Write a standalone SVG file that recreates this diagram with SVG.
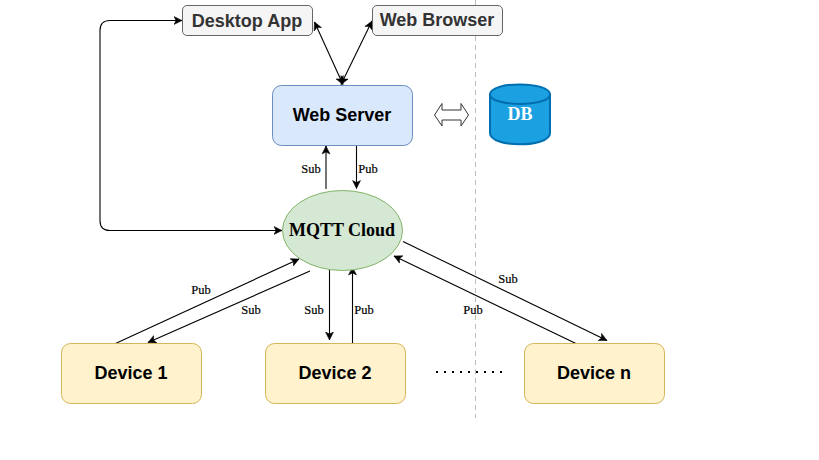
<svg xmlns="http://www.w3.org/2000/svg" width="819" height="460" viewBox="0 0 819 460">
<style>
.c{fill:none;stroke:#000;stroke-width:1.1}
.s{font:bold 18px "Liberation Sans",Arial,sans-serif;fill:#000;text-anchor:middle}
.g{fill:#333}
.l{font:12.500px "Liberation Serif","Times New Roman",serif;fill:#000;stroke:#000;stroke-width:.2;text-anchor:middle}
.app{fill:#f5f5f5;stroke:#666}
.dev{fill:#fff2cc;stroke:#d6b656}
</style>
<defs>
<marker id="a" markerUnits="userSpaceOnUse" markerWidth="10" markerHeight="10" refX="8.5" refY="4.5" orient="auto-start-reverse"><path d="M0.5 0.5L8.5 4.5L0.5 8.5L2.5 4.5Z" fill="#000" stroke="#000" stroke-width=".5"/></marker>
</defs>
<rect width="819" height="460" fill="#fff"/>
<path d="M475.500 0V418" fill="none" stroke="#bdbdbd" stroke-dasharray="5 4"/>
<g id="connectors">
<path class="c" marker-start="url(#a)" marker-end="url(#a)" d="M182 20.500H110Q100 20.500 100 30.500V220.500Q100 230.500 110 230.500H282"/>
<path class="c" marker-start="url(#a)" marker-end="url(#a)" d="M314.500 22L343 84.500"/>
<path class="c" marker-start="url(#a)" marker-end="url(#a)" d="M372 21L341 84.500"/>
<path class="c" marker-end="url(#a)" d="M326 189V146"/>
<path class="c" marker-end="url(#a)" d="M356.500 146V188.500"/>
<path class="c" marker-end="url(#a)" d="M115.500 343.500L299 259"/>
<path class="c" marker-end="url(#a)" d="M310 271L148 342.500"/>
<path class="c" marker-end="url(#a)" d="M329.500 270V340"/>
<path class="c" marker-end="url(#a)" d="M352.500 344.500V267"/>
<path class="c" marker-end="url(#a)" d="M403 241.500L607 340.500"/>
<path class="c" marker-end="url(#a)" d="M577 344L394 256"/>
<path d="M434.500 115L442 103.500V110H461V103.500L468.500 115L461 126V120H442V126Z" fill="#fff" stroke="#333"/>
<path d="M436 372H504" fill="none" stroke="#000" stroke-width="2" stroke-dasharray="2 6"/>
</g>
<g id="desktop-app"><rect class="app" x="182.500" y="5.500" width="130" height="30" rx="4.500"/><text class="s g" x="247" y="26.500">Desktop App</text></g>
<g id="web-browser"><rect class="app" x="372.500" y="5.500" width="130" height="30" rx="4.500"/><text class="s g" x="437" y="26">Web Browser</text></g>
<g id="web-server"><rect x="272.500" y="85.500" width="140" height="60" rx="9" fill="#dae8fc" stroke="#6c8ebf"/><text class="s" x="342" y="121">Web Server</text></g>
<g id="db"><path d="M490 94.500C490 81 550 81 550 94.500V133C550 148 490 148 490 133Z" fill="#1ba1e2" stroke="#006eaf" stroke-width="2"/><path d="M490 94.500C490 107 550 107 550 94.500" fill="none" stroke="#006eaf" stroke-width="2"/><text x="520" y="120" text-anchor="middle" style="font:bold 18px 'Liberation Serif',serif;fill:#fff">DB</text></g>
<g id="mqtt-cloud"><ellipse cx="342.500" cy="230.500" rx="60" ry="40" fill="#d5e8d4" stroke="#82b366"/><text x="342" y="236" text-anchor="middle" style="font:bold 18px 'Liberation Serif',serif;fill:#000">MQTT Cloud</text></g>
<g id="device-1"><rect class="dev" x="61.500" y="343.500" width="140" height="60" rx="9"/><text class="s" x="131" y="379">Device 1</text></g>
<g id="device-2"><rect class="dev" x="265.500" y="343.500" width="140" height="60" rx="9"/><text class="s" x="335" y="379">Device 2</text></g>
<g id="device-n"><rect class="dev" x="524.500" y="343.500" width="140" height="60" rx="9"/><text class="s" x="594" y="379">Device n</text></g>
<g id="labels">
<text class="l" x="311" y="173">Sub</text><text class="l" x="368" y="173">Pub</text>
<text class="l" x="201" y="294">Pub</text><text class="l" x="251" y="314">Sub</text>
<text class="l" x="314" y="314">Sub</text><text class="l" x="364" y="314">Pub</text>
<text class="l" x="508" y="283">Sub</text><text class="l" x="473" y="314">Pub</text>
</g>
</svg>
